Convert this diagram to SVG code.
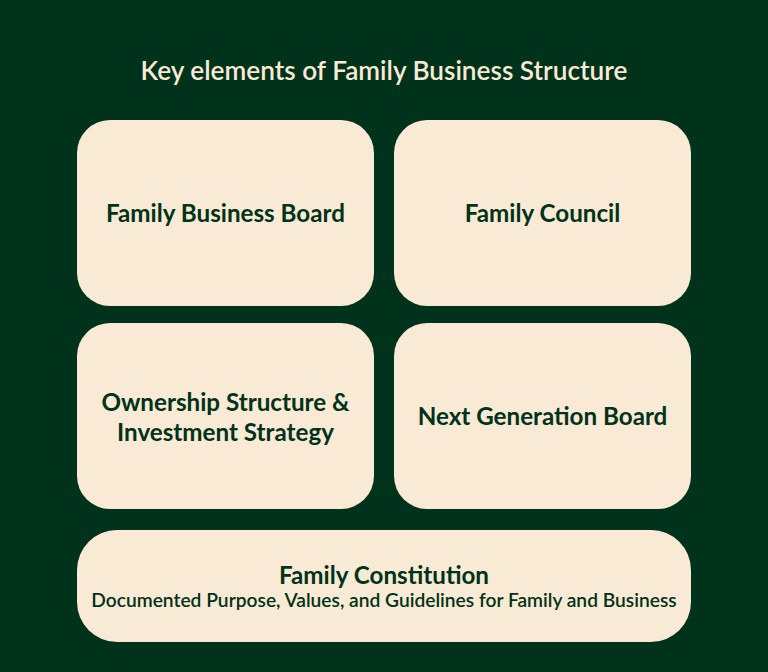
<svg xmlns="http://www.w3.org/2000/svg" width="768" height="672" viewBox="0 0 768 672">
<style>
.box{fill:#F8EAD5}
.t{font-family:Lato,"Open Sans",sans-serif;font-weight:700;font-size:24.2px;fill:#01321A;text-anchor:middle}
.s{font-family:Lato,"Open Sans",sans-serif;font-weight:600;font-size:19.2px;fill:#01321A;text-anchor:middle}
.h{font-family:Lato,"Open Sans",sans-serif;font-weight:600;font-size:26.2px;fill:#F8EAD5;text-anchor:middle}
</style>
<rect width="768" height="672" fill="#01321B"/>
<text class="h" x="384" y="80">Key elements of Family Business Structure</text>
<g id="node-family-business-board">
<rect class="box" x="77" y="120" width="297" height="186" rx="33"/>
<text class="t" x="225.5" y="222">Family Business Board</text>
</g>
<g id="node-family-council">
<rect class="box" x="394" y="120" width="297" height="186" rx="33"/>
<text class="t" x="542.5" y="222">Family Council</text>
</g>
<g id="node-ownership">
<rect class="box" x="77" y="323" width="297" height="186" rx="33"/>
<text class="t" x="225.5" y="411">Ownership Structure &amp;</text>
<text class="t" x="225.5" y="441">Investment Strategy</text>
</g>
<g id="node-next-generation">
<rect class="box" x="394" y="323" width="297" height="186" rx="33"/>
<text class="t" x="542.5" y="425">Next Generation Board</text>
</g>
<g id="node-family-constitution">
<rect class="box" x="77" y="530" width="614" height="112" rx="40"/>
<text class="t" x="384" y="584">Family Constitution</text>
<text class="s" x="384" y="607">Documented Purpose, Values, and Guidelines for Family and Business</text>
</g>
<g id="connectors"/>
</svg>
